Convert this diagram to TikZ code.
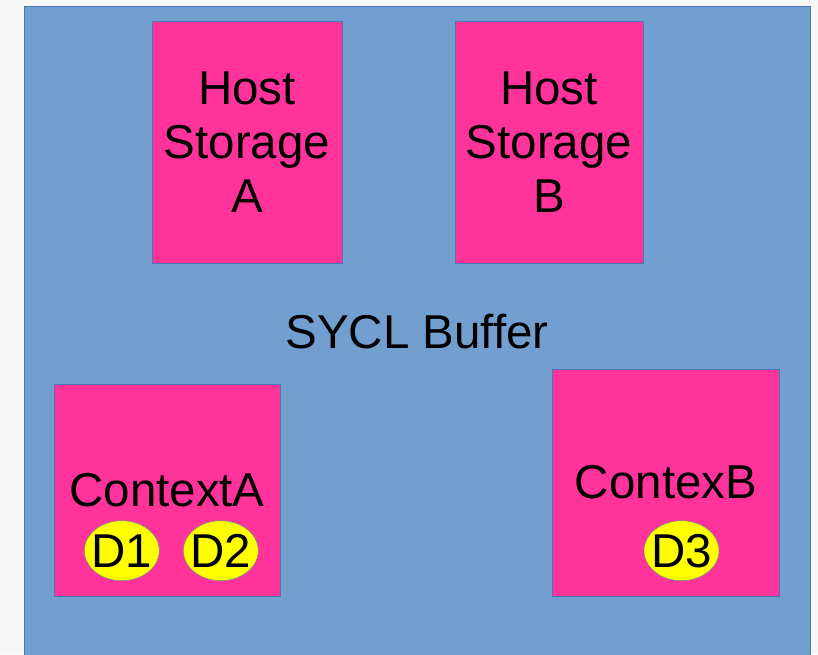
\documentclass[tikz,border=0pt]{standalone}
\usepackage{fontspec}
\setmainfont{Liberation Sans}
\usetikzlibrary{shapes.geometric}
\definecolor{pagebg}{HTML}{F7F7F7}
\definecolor{bufblue}{HTML}{729FCF}
\definecolor{bufedge}{HTML}{4A76B4}
\definecolor{storepink}{HTML}{FF3399}
\definecolor{devyellow}{HTML}{FFFF00}
\begin{document}
\begin{tikzpicture}[x=1pt,y=-1pt,
  every node/.style={font=\fontsize{47.5}{54}\selectfont, text=black},
  store/.style={draw=bufedge, line width=0.8pt, fill=storepink, inner sep=0pt, align=center},
  dev/.style={ellipse, draw=bufedge!80!devyellow, line width=0.6pt, fill=devyellow,
              minimum width=75pt, minimum height=60pt, inner sep=0pt,
              label={[inner sep=0pt]center:#1}}]
  \useasboundingbox (0,0) rectangle (818,654);
  \fill[pagebg] (0,0) rectangle (818,654);
  % the buffer area
  \draw[bufedge, line width=1pt, fill=bufblue] (24,6) rectangle (810,670);
  \node (buf) at (417,332) {SYCL Buffer};
  % host storages
  \node[store, minimum width=190pt, minimum height=242pt] (hostA) at (247,142) {Host\\Storage\\A};
  \node[store, minimum width=188pt, minimum height=242pt] (hostB) at (549,142) {Host\\Storage\\B};
  % contexts
  \node[store, minimum width=226pt, minimum height=212pt] (ctxA) at (167,490) {ContextA};
  \node[store, minimum width=227pt, minimum height=227pt] (ctxB) at (666,482.5) {ContexB};
  % devices
  \node[dev=D1] (d1) at (121.8,550.7) {};
  \node[dev=D2] (d2) at (220.8,550.7) {};
  \node[dev=D3] (d3) at (681.5,550.7) {};
\end{tikzpicture}
\end{document}
